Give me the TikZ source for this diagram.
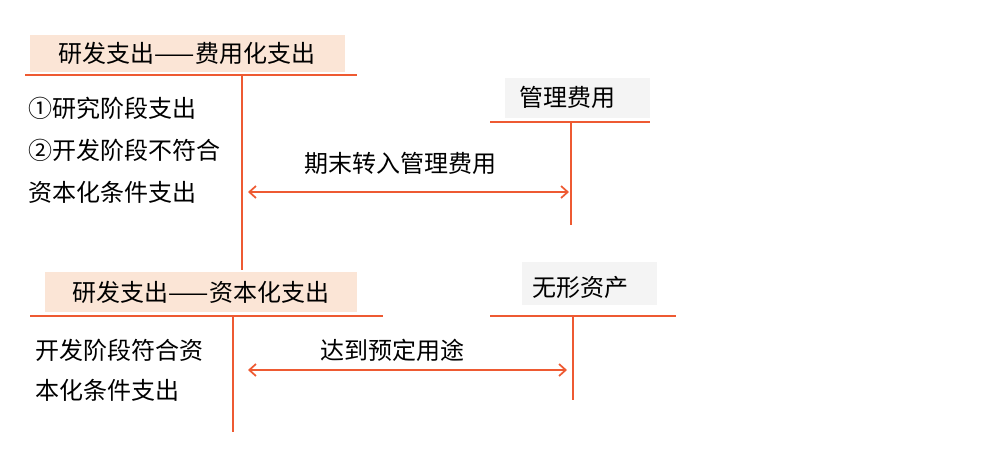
\documentclass[tikz,border=0pt]{standalone}
\usepackage{fontspec}
\setmainfont{Noto Sans CJK SC}
\usetikzlibrary{arrows.meta}
\definecolor{org}{HTML}{EE5A32}
\definecolor{peach}{HTML}{FBE5D6}
\definecolor{lgray}{HTML}{F4F4F4}
\tikzset{
  ln/.style={draw=org,line width=1.3pt},
  arr/.style={ln,{Straight Barb[length=5pt,width=9pt]}-{Straight Barb[length=5pt,width=9pt]}},
  txt/.style={font=\fontsize{18}{20}\selectfont,inner sep=0pt},
  lt/.style={txt,anchor=west}
}
\begin{document}
\begin{tikzpicture}[x=0.75pt,y=-0.75pt]
\useasboundingbox (0,0) rectangle (1000,451);
\fill[peach] (30,35) rectangle (345,72);
\node[txt] (b1) at (187,53) {研发支出——费用化支出};
\coordinate (h1l) at (25,75); \coordinate (h1r) at (357,75);
\draw[ln] (h1l) -- (h1r);
\coordinate (v1t) at (242,75); \coordinate (v1b) at (242,270);
\draw[ln] (v1t) -- (v1b);
\node[lt] (t1) at (28,108) {①研究阶段支出};
\node[lt] (t2) at (28,150) {②开发阶段不符合};
\node[lt] (t3) at (28,192) {资本化条件支出};

\fill[lgray] (505,78) rectangle (650,118);
\node[txt] (g) at (567,97) {管理费用};
\coordinate (h2l) at (490,122); \coordinate (h2r) at (650,122);
\draw[ln] (h2l) -- (h2r);
\coordinate (v2t) at (571,122); \coordinate (v2b) at (571,225);
\draw[ln] (v2t) -- (v2b);
\node[txt] (l1) at (400,163) {期末转入管理费用};
\coordinate (a1l) at (248,192); \coordinate (a1r) at (569,192);
\draw[arr] (a1l) -- (a1r);

\fill[peach] (45,272) rectangle (357,312);
\node[txt] (b2) at (201,292) {研发支出——资本化支出};
\coordinate (h3l) at (30,316); \coordinate (h3r) at (383,316);
\draw[ln] (h3l) -- (h3r);
\coordinate (v3t) at (233,316); \coordinate (v3b) at (233,432);
\draw[ln] (v3t) -- (v3b);
\node[lt] (t4) at (35,350) {开发阶段符合资};
\node[lt] (t5) at (35,390) {本化条件支出};

\fill[lgray] (522,262) rectangle (657,305);
\node[txt] (w) at (580,287) {无形资产};
\coordinate (h4l) at (490,316); \coordinate (h4r) at (676,316);
\draw[ln] (h4l) -- (h4r);
\coordinate (v4t) at (573,316); \coordinate (v4b) at (573,400);
\draw[ln] (v4t) -- (v4b);
\node[txt] (l2) at (392,350) {达到预定用途};
\coordinate (a2l) at (248,370); \coordinate (a2r) at (567,370);
\draw[arr] (a2l) -- (a2r);
\end{tikzpicture}
\end{document}
